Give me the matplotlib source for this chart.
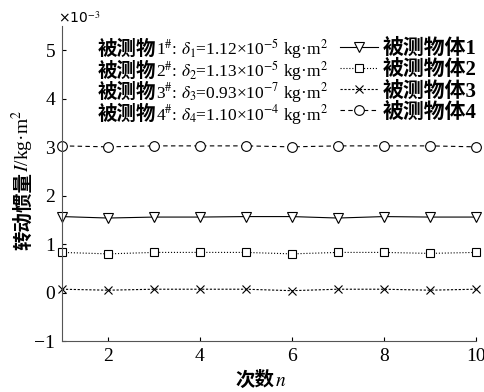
import matplotlib.pyplot as plt
from matplotlib.transforms import IdentityTransform
from matplotlib.font_manager import FontProperties

plt.rcParams['font.family'] = ['Liberation Serif', 'Noto Sans CJK SC']
plt.rcParams['mathtext.fontset'] = 'stix'

# data (units of 1e-3 kg*m^2)
n = [1, 2, 3, 4, 5, 6, 7, 8, 9, 10]
obj1 = [1.57, 1.54, 1.56, 1.56, 1.57, 1.57, 1.54, 1.57, 1.56, 1.56]
obj2 = [0.83, 0.80, 0.83, 0.83, 0.83, 0.80, 0.83, 0.83, 0.81, 0.83]
obj3 = [0.07, 0.05, 0.07, 0.07, 0.07, 0.04, 0.07, 0.07, 0.05, 0.07]
obj4 = [3.03, 3.01, 3.03, 3.03, 3.03, 3.01, 3.03, 3.03, 3.03, 3.01]
labels = ['被测物体1', '被测物体2', '被测物体3', '被测物体4']
note_ids = ['1', '2', '3', '4']
note_vals = [r'1.12×10$^{-5}$', r'1.13×10$^{-5}$', r'0.93×10$^{-7}$', r'1.10×10$^{-4}$']

cjk = dict(family='Noto Sans CJK SC', weight='bold', size=14)
ser = dict(family='Liberation Serif', size=12.5)
lab_cjk = dict(family='Noto Sans CJK SC', weight='bold', size=14)
lab_ser = dict(family='Liberation Serif', size=14)

fig = plt.figure(figsize=(4.85, 3.92), dpi=100)
ax = fig.add_axes([0.128, 0.130, 0.853, 0.803])
renderer = fig.canvas.get_renderer()


def draw_pieces(pieces, x, y, rotation=0):
    # draw text pieces one after another, in display pixels
    for txt, kw in pieces:
        t = fig.text(x, y, txt, transform=IdentityTransform(), rotation=rotation,
                     rotation_mode='anchor', ha='left', va='baseline', **kw)
        bb = t.get_window_extent(renderer)
        if rotation == 0:
            x += bb.width
        else:
            y += bb.height


styles = [('-', 'v', 7), (':', 's', 6), ((0, (2, 1.5)), 'x', 6), ((0, (4, 3)), 'o', 7)]
for ys, lab, (ls, mk, ms) in zip([obj1, obj2, obj3, obj4], labels, styles):
    ax.plot(n, ys, color='black', linestyle=ls, linewidth=0.8, marker=mk,
            markersize=ms, markerfacecolor='white', markeredgewidth=0.8,
            label=lab, clip_on=False)

ax.set_xlim(1, 10)
ax.set_ylim(-1, 5.5)
ax.set_xticks([2, 4, 6, 8, 10])
ax.set_yticks([-1, 0, 1, 2, 3, 4, 5])
ax.set_yticklabels(['\u22121', '0', '1', '2', '3', '4', '5'])
ax.tick_params(direction='in', labelsize=14, length=3, pad=5)
for s in ['top', 'right']:
    ax.spines[s].set_visible(False)
for s in ['left', 'bottom']:
    ax.spines[s].set_color('#555555')

fig.text(0.12, 0.975, r'×10$^{-3}$', fontsize=10, va='top', ha='left',
         family='DejaVu Sans')

# axis labels
draw_pieces([('次数', lab_cjk), (r'$n$', lab_ser)], 236, 6)
draw_pieces([('转动惯量', lab_cjk), (r'$I$/kg·m$^2$', lab_ser)], 29, 142, rotation=90)

# notes on the left of the legend
for i, (k, v) in enumerate(zip(note_ids, note_vals)):
    draw_pieces([('被测物', cjk),
                 (k + r'$^{\#}$: $\delta_' + k + '$=' + v + r' kg·m$^2$', ser)],
                98, 337 - i * 21.7)

leg_font = FontProperties(family=['Liberation Serif', 'Noto Sans CJK SC'],
                          size=15, weight='bold')
ax.legend(loc='upper left', bbox_to_anchor=(340, 353),
          bbox_transform=IdentityTransform(), frameon=False, prop=leg_font,
          handlelength=1.83, handletextpad=0.24, labelspacing=0.05,
          borderpad=0, borderaxespad=0)

fig.savefig('out.png', dpi=100)
